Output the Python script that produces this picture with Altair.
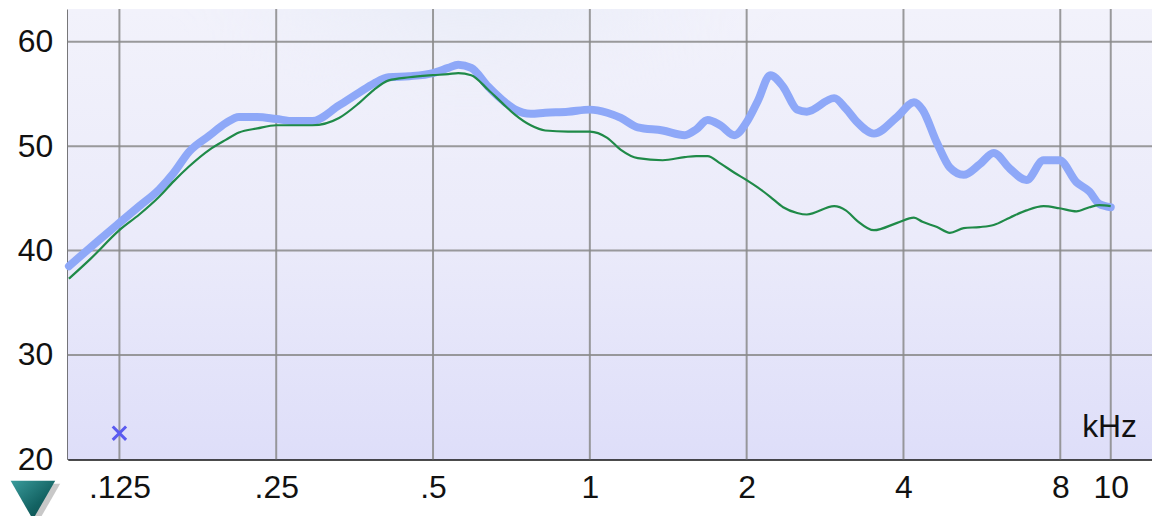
import altair as alt
import pandas as pd

# ---- data ----
freq_khz = [0.1, 0.11, 0.125, 0.1365, 0.149, 0.159, 0.170, 0.186, 0.20, 0.212, 0.23, 0.25,
            0.27, 0.293, 0.33, 0.36, 0.385, 0.411, 0.45, 0.5, 0.535, 0.559, 0.592, 0.638,
            0.68, 0.719, 0.77, 0.821, 0.908, 1.0, 1.08, 1.147, 1.236, 1.38, 1.521, 1.6,
            1.683, 1.78, 1.895, 2.0, 2.1, 2.22, 2.35, 2.5, 2.61, 2.945, 3.1, 3.26, 3.51,
            3.89, 4.19, 4.35, 4.64, 4.91, 5.22, 5.6, 5.96, 6.4, 6.89, 7.43, 7.97, 8.59,
            9.1, 9.51, 10.0]
blue_db = [38.5, 40.3, 42.65, 44.25, 45.85, 47.45, 49.45, 51.0, 52.2, 52.8, 52.8, 52.6,
           52.4, 52.4, 53.9, 55.1, 56.0, 56.6, 56.7, 57.0, 57.5, 57.8, 57.5, 55.7,
           54.4, 53.5, 53.1, 53.2, 53.3, 53.5, 53.2, 52.7, 51.8, 51.5, 51.05, 51.6,
           52.5, 52.0, 51.05, 52.3, 54.3, 56.8, 55.7, 53.5, 53.3, 54.6, 53.6, 52.3, 51.2,
           52.8, 54.2, 53.5, 50.3, 47.95, 47.25, 48.25, 49.35, 47.85, 46.75, 48.65, 48.65,
           46.55, 45.65, 44.45, 44.15]
green_db = [37.3, 39.2, 41.95, 43.45, 45.15, 46.65, 48.05, 49.65, 50.6, 51.3, 51.7, 52.0,
            52.0, 52.0, 52.7, 54.1, 55.4, 56.3, 56.6, 56.8, 56.9, 57.0, 56.8, 55.4,
            54.1, 53.0, 52.0, 51.5, 51.4, 51.4, 50.8, 49.65, 48.85, 48.65, 48.95, 49.05,
            49.05, 48.35, 47.45, 46.75, 46.05, 45.15, 44.15, 43.6, 43.45, 44.25, 43.85,
            42.85, 41.95, 42.65, 43.15, 42.75, 42.25, 41.7, 42.15, 42.25, 42.45, 43.15,
            43.85, 44.25, 44.05, 43.75, 44.15, 44.35, 44.25]
tick_freqs = [0.125, 0.25, 0.5, 1, 2, 4, 8, 10]
tick_labels = [".125", ".25", ".5", "1", "2", "4", "8", "10"]
db_ticks = [20, 30, 40, 50, 60]
grid_db = [30, 40, 50, 60]
marker_freq = [0.125]
marker_db = [22.5]
unit_text = "kHz"

W, H = 1088, 452
FONT = "Liberation Sans, Arial, sans-serif"

blue_df = pd.DataFrame({"f": freq_khz, "db": blue_db})
green_df = pd.DataFrame({"f": freq_khz, "db": green_db})
vgrid_df = pd.DataFrame({"f": tick_freqs})
hgrid_df = pd.DataFrame({"db": grid_db})
marker_df = pd.DataFrame({"f": marker_freq, "db": marker_db})
one_df = pd.DataFrame({"a": [0]})

label_expr = ("[" + ",".join(f"'{t}'" for t in tick_labels) + "][indexof(["
              + ",".join(str(v) for v in tick_freqs) + "], datum.value)]")

xscale = alt.Scale(type="log", domain=[0.0995, 12.0], nice=False)
yscale = alt.Scale(domain=[20, 63.15], nice=False, zero=False)

xaxis = alt.Axis(values=tick_freqs, labelExpr=label_expr, grid=False, ticks=False,
                 domain=True, domainColor="#111111", domainWidth=2, title=None,
                 labelFont=FONT, labelFontSize=32, labelColor="#111111",
                 labelPadding=13, labelOverlap=False, labelFlush=False)
yaxis = alt.Axis(values=db_ticks, grid=False, ticks=False, domain=True,
                 domainColor="#111111", domainWidth=2, title=None,
                 labelFont=FONT, labelFontSize=32, labelColor="#111111",
                 labelPadding=15, labelOverlap=False, labelFlush=False)

X = alt.X("f:Q", scale=xscale, axis=xaxis)
Y = alt.Y("db:Q", scale=yscale, axis=yaxis)

bg = alt.Chart(one_df).mark_rect(
    fill=alt.Gradient(gradient="linear", x1=0, y1=0, x2=0, y2=1,
                      stops=[alt.GradientStop(color="#f2f2fb", offset=0),
                             alt.GradientStop(color="#ebebfa", offset=0.5),
                             alt.GradientStop(color="#dedef9", offset=1)])
).encode(x=alt.value(0), x2=alt.value(W), y=alt.value(0), y2=alt.value(H))

spot = alt.Chart(one_df).mark_rect(
    fill=alt.Gradient(gradient="radial", x1=0.46, y1=0.0, r1=0, x2=0.46, y2=0.0, r2=0.6,
                      stops=[alt.GradientStop(color="rgba(205,220,236,0.9)", offset=0),
                             alt.GradientStop(color="rgba(215,226,240,0.55)", offset=0.5),
                             alt.GradientStop(color="rgba(240,240,251,0)", offset=1)])
).encode(x=alt.value(80), x2=alt.value(780), y=alt.value(0), y2=alt.value(150))

vgrid = alt.Chart(vgrid_df).mark_rule(color="#8a8a8a", strokeWidth=2, opacity=0.85).encode(x=X)
hgrid = alt.Chart(hgrid_df).mark_rule(color="#8a8a8a", strokeWidth=2, opacity=0.85).encode(y=Y)

blue = alt.Chart(blue_df).mark_line(color="#8ea8f8", strokeWidth=8, interpolate="monotone",
                                    strokeCap="round", strokeJoin="round").encode(x=X, y=Y)
green = alt.Chart(green_df).mark_line(color="#1f8a48", strokeWidth=2.2,
                                      interpolate="monotone").encode(x=X, y=Y)

marker = alt.Chart(marker_df).mark_point(
    shape="M-1,-1L1,1M-1,1L1,-1", size=180, strokeWidth=3, filled=False,
    color="#5a5af0", opacity=1
).encode(x=X, y=Y)

unit = alt.Chart(one_df).mark_text(
    text=unit_text, align="right", baseline="alphabetic", font=FONT, fontSize=32,
    color="#111111"
).encode(x=alt.value(1073), y=alt.value(430))

tri_shadow = alt.Chart(one_df).mark_point(
    shape="triangle-down", size=2000, filled=True, color="#9a9a9a", opacity=0.55,
    strokeWidth=0
).encode(x=alt.value(-30), y=alt.value(496))
tri = alt.Chart(one_df).mark_point(
    shape="triangle-down", size=2000, filled=True, opacity=1, strokeWidth=0,
    fill=alt.Gradient(gradient="linear", x1=0, y1=0, x2=1, y2=1,
                      stops=[alt.GradientStop(color="#3a9c9c", offset=0),
                             alt.GradientStop(color="#136262", offset=0.6),
                             alt.GradientStop(color="#0b4646", offset=1)])
).encode(x=alt.value(-35), y=alt.value(493))

chart = alt.layer(bg, spot, vgrid, hgrid, blue, green, marker, unit, tri_shadow, tri).properties(
    width=W, height=H,
    autosize=alt.AutoSizeParams(type="none"),
    padding={"left": 60, "top": 0, "right": 0, "bottom": 56},
).configure_view(stroke=None)

chart.save("out.html", embed_options={"renderer": "svg", "actions": False})
